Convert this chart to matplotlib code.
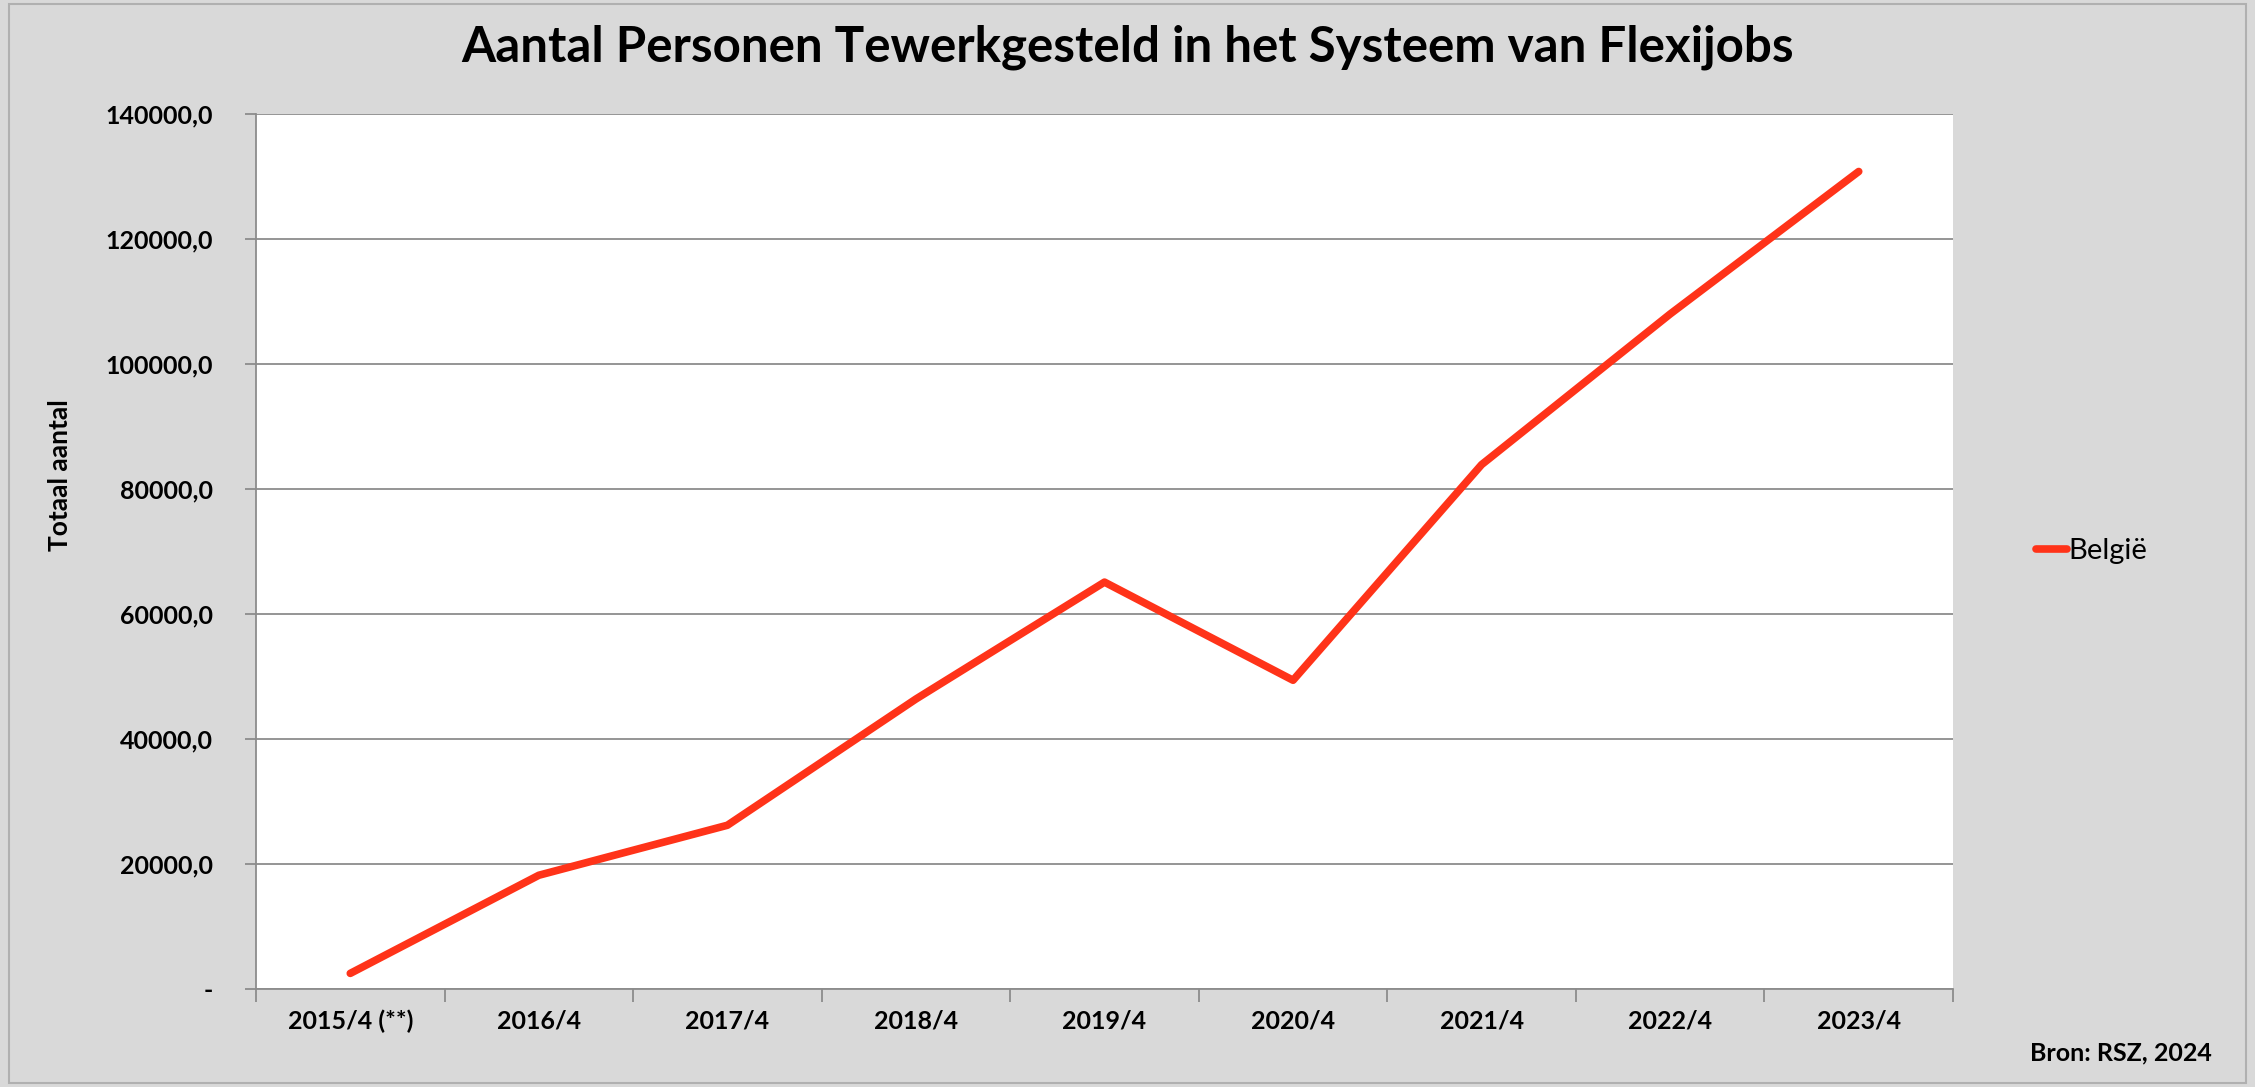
import matplotlib
matplotlib.use('Agg')
import matplotlib.pyplot as plt
from matplotlib.ticker import FuncFormatter, FixedLocator
from matplotlib.patches import Rectangle

# data
periods = ['2015/4 (**)', '2016/4', '2017/4', '2018/4', '2019/4',
           '2020/4', '2021/4', '2022/4', '2023/4']
persons = [2500, 18200, 26200, 46400, 65100, 49400, 83900, 108000, 130800]
series_name = 'België'

BG = '#d9d9d9'
GRID = '#8c8c8c'
RED = '#ff3319'

plt.rcParams['font.family'] = ['Lato', 'DejaVu Sans']

fig = plt.figure(figsize=(22.55, 10.87), dpi=100, facecolor=BG)
ax = fig.add_axes([256 / 2255, 1 - 989 / 1087, (1953 - 256) / 2255, (989 - 114) / 1087])
ax.set_facecolor('white')

x = range(len(periods))
ax.plot(x, persons, color=RED, linewidth=5.5, solid_capstyle='round',
        solid_joinstyle='round', label=series_name)

ax.set_xlim(-0.5, len(periods) - 0.5)
ax.set_ylim(0, 140000)
ax.set_yticks(range(0, 140001, 20000))
ax.yaxis.set_major_formatter(FuncFormatter(
    lambda v, p: '-' if v == 0 else f'{v:.1f}'.replace('.', ',')))
ax.set_xticks(list(x))
ax.set_xticklabels(periods)
ax.xaxis.set_minor_locator(FixedLocator([i - 0.5 for i in range(len(periods) + 1)]))

ax.grid(True, axis='y', color=GRID, linewidth=1.3)
ax.set_axisbelow(True)
for side in ['top', 'right']:
    ax.spines[side].set_visible(False)
for side in ['left', 'bottom']:
    ax.spines[side].set_color(GRID)
    ax.spines[side].set_linewidth(1.3)

ax.tick_params(axis='x', which='major', length=0, pad=15, labelsize=18)
ax.tick_params(axis='x', which='minor', length=9, width=1.3, color=GRID, direction='out')
ax.tick_params(axis='y', length=8, width=1.3, color=GRID, pad=23, labelsize=18)
for lbl in ax.get_xticklabels() + ax.get_yticklabels():
    lbl.set_fontweight('bold')

fig.text(60 / 2255, 1 - 475 / 1087, 'Totaal aantal', rotation=90,
         ha='center', va='center', fontsize=19, fontweight='bold')

fig.text(0.5 * (461 + 1795) / 2255, 1 - 47 / 1087,
         'Aantal Personen Tewerkgesteld in het Systeem van Flexijobs',
         ha='center', va='center', fontsize=35.5, fontweight='bold')

ax.legend(loc='center left', bbox_to_anchor=(2010 / 2255, 1 - 551 / 1087),
          bbox_transform=fig.transFigure, frameon=False, fontsize=21,
          handlelength=1.05, handletextpad=0.05)

fig.text(2030 / 2255, 1 - 1053 / 1087, 'Bron: RSZ, 2024', ha='left', va='center',
         fontsize=18, fontweight='bold')

# outer chart border
fig.patches.append(Rectangle((0.004, 0.004), 0.992, 0.992, transform=fig.transFigure,
                             fill=False, edgecolor='#b0b0b0', linewidth=1.5))

fig.savefig('out.png', dpi=100, facecolor=BG)
